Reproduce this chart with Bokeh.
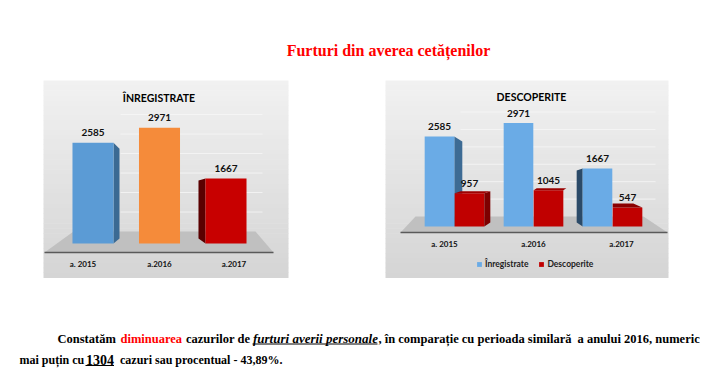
from bokeh.plotting import figure
from bokeh.models import Range1d, ColumnDataSource, Legend, LegendItem
from bokeh.core.properties import value
from bokeh.embed import file_html
from bokeh.resources import INLINE

# ---------------- data ----------------
page_title = "Furturi din averea cetățenilor"
years = ["a. 2015", "a.2016", "a.2017"]
inregistrate = [2585, 2971, 1667]
descoperite = [957, 1045, 547]
chart1_title = "ÎNREGISTRATE"
chart2_title = "DESCOPERITE"
series_names = ["Înregistrate", "Descoperite"]

# ---------------- styles ----------------
W, H = 704, 374
SANS = value("Lato")
SERIF = value("Liberation Serif")
C1_COLORS = ["#5b9bd5", "#f58b3a", "#c80000"]
C1_SIDES = ["#3b6a93", None, "#5a0000"]
BLUE2, RED2 = "#6aabe6", "#c00000"

p = figure(width=W, height=H, output_backend="svg", toolbar_location=None,
           x_range=Range1d(0, W), y_range=Range1d(H, 0), min_border=0)
p.axis.visible = False
p.grid.visible = False
p.outline_line_color = None
p.background_fill_color = "white"
p.border_fill_color = "white"


def cat_range(center0_px, step_px):
    start = -center0_px / step_px
    return Range1d(start, start + W / step_px)


def val_range(base_px, px_per_unit):
    return Range1d(-(H - base_px) / px_per_unit, base_px / px_per_unit)


S1, K1 = 66.5, 0.039     # chart 1: px per category, px per unit
S2, K2 = 79.0, 0.0348    # chart 2
p.extra_x_ranges = {"x1": cat_range(92.5, S1), "x2": cat_range(454, S2)}
p.extra_y_ranges = {"y1": val_range(243, K1), "y1b": val_range(231, K1),
                    "y2": val_range(226, K2), "y2b": val_range(216, K2)}


def mix(c0, c1, t):
    a = [int(c0[i:i + 2], 16) for i in (1, 3, 5)]
    b = [int(c1[i:i + 2], 16) for i in (1, 3, 5)]
    return "#%02x%02x%02x" % tuple(round(a[k] + (b[k] - a[k]) * t) for k in range(3))


def gray_box(x0, y0, x1, y1):
    n = 40
    h = (y1 - y0) / n
    p.quad(left=[x0] * n, right=[x1] * n,
           top=[y0 + k * h for k in range(n)], bottom=[y0 + (k + 1) * h + 0.5 for k in range(n)],
           fill_color=[mix("#f1f1f1", "#d5d5d5", k / (n - 1)) for k in range(n)],
           line_color=None)


# ---------- page title ----------
p.text(x=[388], y=[50], text=[page_title], text_font=SERIF, text_font_style="bold",
       text_font_size="16px", text_color="#ff0000", text_align="center",
       text_baseline="middle")

# ================= CHART 1 =================
gray_box(43, 80, 288, 277)
p.patch(x=[73, 255, 273, 44], y=[231, 231, 252, 252], fill_color="#c0c0c0", line_color=None)
p.segment(x0=[44], y0=[252], x1=[273], y1=[252], line_color="#5a5a5a", line_width=1.5)
grid_vals = [500, 1000, 1500, 2000, 2500, 3000]
p.segment(x0=[120] * 6, x1=[262] * 6, y0=grid_vals, y1=grid_vals, y_range_name="y1b",
          line_color="#f6f6f6", line_alpha=0.8, line_width=1)

w1 = 0.617
# side faces
dx1 = 6 / S1
p.patch(x=[w1 / 2, w1 / 2 + dx1, w1 / 2 + dx1, w1 / 2],
        y=[inregistrate[0], inregistrate[0] - 6 / K1, 5 / K1, 0],
        x_range_name="x1", y_range_name="y1", fill_color=C1_SIDES[0], line_color=None)
xl = 2 - w1 / 2
p.patch(x=[xl - 7 / S1, xl, xl, xl - 7 / S1],
        y=[inregistrate[2] - 2 / K1, inregistrate[2], 0, 5 / K1],
        x_range_name="x1", y_range_name="y1", fill_color=C1_SIDES[2], line_color=None)

src1 = ColumnDataSource(dict(x=[0, 1, 2], top=inregistrate, color=C1_COLORS,
                             lab=[str(v) for v in inregistrate], year=years,
                             xoff=[-10, 0, 8]))
p.vbar(x="x", top="top", bottom=0, width=w1, fill_color="color", line_color=None,
       source=src1, x_range_name="x1", y_range_name="y1")
p.text(x="x", y="top", text="lab", source=src1, x_range_name="x1", y_range_name="y1",
       text_font=SANS, text_font_style="bold", text_font_size="10px", text_color="#111111",
       text_align="center", text_baseline="middle", y_offset=-10)
p.text(x="x", y=0, text="year", source=src1, x_range_name="x1", y_range_name="y1",
       x_offset="xoff", y_offset=20,
       text_font=SANS, text_font_style="bold", text_font_size="8px", text_color="#111111",
       text_align="center", text_baseline="middle")
p.text(x=[158.5], y=[97], text=[chart1_title], text_font=SANS, text_font_style="bold",
       text_font_size="10.5px", text_color="#000000", text_align="center",
       text_baseline="middle")

# ================= CHART 2 =================
gray_box(385, 80, 668, 277)
p.patch(x=[415, 643, 667, 400], y=[216, 216, 232, 232], fill_color="#c0c0c0", line_color=None)
p.segment(x0=[400], y0=[232], x1=[667], y1=[232], line_color="#5a5a5a", line_width=1.5)
p.segment(x0=[460] * 6, x1=[655] * 6, y0=grid_vals, y1=grid_vals, y_range_name="y2b",
          line_color="#f6f6f6", line_alpha=0.8, line_width=1)

w2 = 0.375
off = 0.19
bx = [i - off for i in range(3)]
rx = [i + off for i in range(3)]
# blue side faces (2015 right, 2017 left)
p.patch(x=[bx[0] + w2 / 2, bx[0] + w2 / 2 + 8 / S2, bx[0] + w2 / 2 + 8 / S2, bx[0] + w2 / 2],
        y=[inregistrate[0], inregistrate[0] - 5 / K2, 4 / K2, 0],
        x_range_name="x2", y_range_name="y2", fill_color="#3d6b94", line_color=None)
xl2 = bx[2] - w2 / 2
p.patch(x=[xl2 - 6 / S2, xl2, xl2, xl2 - 6 / S2],
        y=[inregistrate[2] - 2 / K2, inregistrate[2], 0, 4 / K2],
        x_range_name="x2", y_range_name="y2", fill_color="#2b4a68", line_color=None)

srcb = ColumnDataSource(dict(x=bx, top=inregistrate, lab=[str(v) for v in inregistrate]))
srcr = ColumnDataSource(dict(x=rx, top=descoperite, lab=[str(v) for v in descoperite]))
rb = p.vbar(x="x", top="top", bottom=0, width=w2, fill_color=BLUE2, line_color=None,
            source=srcb, x_range_name="x2", y_range_name="y2")
rr = p.vbar(x="x", top="top", bottom=0, width=w2, fill_color=RED2, line_color=None,
            source=srcr, x_range_name="x2", y_range_name="y2")
# red 3D faces
r0 = rx[0] + w2 / 2
p.patch(x=[r0, r0 + 6 / S2, r0 + 6 / S2, r0],
        y=[descoperite[0], descoperite[0] + 2 / K2, 4 / K2, 0],
        x_range_name="x2", y_range_name="y2", fill_color="#7d0000", line_color=None)
p.patch(x=[rx[0] - w2 / 2, r0, r0 + 6 / S2, rx[0] - w2 / 2 + 6 / S2],
        y=[descoperite[0], descoperite[0], descoperite[0] + 2 / K2, descoperite[0] + 2 / K2],
        x_range_name="x2", y_range_name="y2", fill_color="#9e0000", line_color=None)
p.patch(x=[rx[1] - w2 / 2, rx[1] + w2 / 2, rx[1] + w2 / 2 + 3 / S2, rx[1] - w2 / 2 + 3 / S2],
        y=[descoperite[1], descoperite[1], descoperite[1] + 2 / K2, descoperite[1] + 2 / K2],
        x_range_name="x2", y_range_name="y2", fill_color="#9a0000", line_color=None)
p.patch(x=[rx[2] - w2 / 2, rx[2] + w2 / 2, rx[2] + w2 / 2 - 9 / S2, rx[2] - w2 / 2],
        y=[descoperite[2], descoperite[2], descoperite[2] + 4 / K2, descoperite[2] + 4 / K2],
        x_range_name="x2", y_range_name="y2", fill_color="#8a0000", line_color=None)

for s in (srcb, srcr):
    p.text(x="x", y="top", text="lab", source=s, x_range_name="x2", y_range_name="y2",
           text_font=SANS, text_font_style="bold", text_font_size="10px", text_color="#111111",
           text_align="center", text_baseline="middle", y_offset=-10)
srcy = ColumnDataSource(dict(x=[0, 1, 2], year=years, xoff=[-10, 0, 9]))
p.text(x="x", y=0, text="year", source=srcy, x_range_name="x2", y_range_name="y2",
       x_offset="xoff", y_offset=17,
       text_font=SANS, text_font_style="bold", text_font_size="8px", text_color="#111111",
       text_align="center", text_baseline="middle")
p.text(x=[531], y=[96], text=[chart2_title], text_font=SANS, text_font_style="bold",
       text_font_size="10.5px", text_color="#000000", text_align="center",
       text_baseline="middle")

legend = Legend(items=[LegendItem(label=series_names[0], renderers=[rb]),
                       LegendItem(label=series_names[1], renderers=[rr])],
                location=(476, 105), orientation="horizontal",
                background_fill_alpha=0, border_line_color=None, padding=0, margin=0,
                glyph_width=6, glyph_height=6, label_height=10, label_standoff=3,
                spacing=10, label_text_font="Lato", label_text_font_style="bold",
                label_text_font_size="8.5px", label_text_color="#222222")
p.add_layout(legend)

# ---------- paragraph ----------
BL1, BL2 = 338, 359
line1 = ColumnDataSource(dict(
    x=[57, 185.5, 378, 577],
    y=[BL1, BL1, BL1, BL1],
    t=["Constatăm", "cazurilor de", ", în comparație cu perioada similară",
       "a anului 2016, numeric"]))
p.text(x="x", y="y", text="t", source=line1, text_font=SERIF, text_font_style="bold",
       text_font_size="12.5px", text_color="#000000", text_baseline="middle")
p.text(x=[120], y=[BL1], text=["diminuarea"], text_font=SERIF, text_font_style="bold",
       text_font_size="12.5px", text_color="#ff0000", text_baseline="middle")
p.text(x=[252.5], y=[BL1], text=["furturi averii personale"], text_font=SERIF,
       text_font_style="bold italic", text_font_size="13px", text_color="#000000",
       text_baseline="middle")
line2 = ColumnDataSource(dict(x=[19, 119.5], y=[BL2, BL2],
                              t=["mai puțin cu", "cazuri  sau procentual - 43,89%."]))
p.text(x="x", y="y", text="t", source=line2, text_font=SERIF, text_font_style="bold",
       text_font_size="12px", text_color="#000000", text_baseline="middle")
p.text(x=[85.5], y=[BL2], text=["1304"], text_font=SERIF, text_font_style="bold",
       text_font_size="14px", text_color="#000000", text_baseline="middle")
p.segment(x0=[252, 85], x1=[377, 113.5], y0=[343.5, 365], y1=[343.5, 365],
          line_color="#000000", line_width=1)

open("out.html", "w").write(file_html(p, INLINE))
